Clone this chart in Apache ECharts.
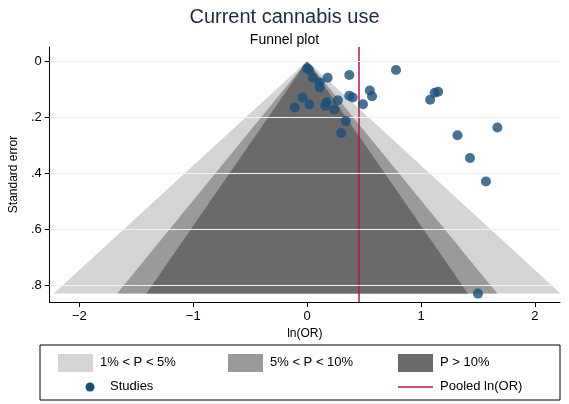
<!DOCTYPE html><html><head><meta charset="utf-8"><script src="https://cdn.jsdelivr.net/npm/echarts@6/dist/echarts.min.js"></script></head><body style="margin:0"><div id="c" style="width:569px;height:404px"></div><script>
const lnOR=[0,0.017,0.05,0.11,0.11,0.18,0.37,0.78,-0.04,-0.11,0.02,0.17,0.16,0.27,0.24,0.37,0.40,0.55,0.57,0.49,0.34,0.30,1.08,1.12,1.15,1.32,1.67,1.43,1.57,1.50];
const se=[0.027,0.032,0.06,0.077,0.094,0.06,0.05,0.032,0.13,0.166,0.155,0.147,0.16,0.14,0.173,0.124,0.13,0.105,0.126,0.154,0.214,0.257,0.138,0.113,0.11,0.265,0.237,0.346,0.43,0.83];
const xTicks=[-2,-1,0,1,2];
const yTicks=[0,0.2,0.4,0.6,0.8];
const pooled=0.45, seMax=0.83;
const zVals=[2.68,2.01,1.70];
const bandColors=['#d4d4d4','#9a9a9a','#6a6a6a'];
const bands=zVals.map(z=>[[0,0],[-z*seMax,seMax],[z*seMax,seMax]]);
const ch=echarts.init(document.getElementById('c'));
const ff='Liberation Sans, Arial, sans-serif';
ch.setOption({backgroundColor:'#fff',animation:false,
title:{text:'Current cannabis use',subtext:'Funnel plot',left:'center',top:2,itemGap:6,
 textStyle:{fontFamily:ff,fontSize:20,fontWeight:'normal',color:'#1a2a4a'},subtextStyle:{fontFamily:ff,fontSize:14,color:'#000'}},
grid:{left:45,right:9,top:47,bottom:102},
xAxis:{type:'value',min:-2.26,max:2.22,name:'ln(OR)',nameLocation:'middle',nameGap:22,nameTextStyle:{fontFamily:ff,fontSize:12,color:'#000'},
 axisLabel:{fontFamily:ff,fontSize:13,color:'#000',customValues:xTicks,formatter:v=>v<0?'\u2212'+(-v):String(v)},
 axisLine:{onZero:false,lineStyle:{color:'#000'}},axisTick:{show:true,length:5,customValues:xTicks},splitLine:{show:false}},
yAxis:{type:'value',inverse:true,min:-0.05,max:0.86,name:'Standard error',nameLocation:'middle',nameGap:28,nameTextStyle:{fontFamily:ff,fontSize:12,color:'#000'},
 axisLabel:{fontFamily:ff,fontSize:13,color:'#000',customValues:yTicks,formatter:v=>v===0?'0':String(v.toFixed(1)).replace(/^0/,'')},
 axisTick:{customValues:yTicks,length:5},
 axisLine:{show:true,onZero:false,lineStyle:{color:'#000'}},splitLine:{show:false}},
series:[
 ...bands.map((b,i)=>({type:'custom',data:[0],z:i+1,renderItem:(p,api)=>({type:'polygon',shape:{points:b.map(pt=>api.coord(pt))},style:{fill:bandColors[i]}})})),
 {type:'line',data:[[0,0]],symbol:'none',z:5,markLine:{silent:true,symbol:'none',label:{show:false},lineStyle:{color:'#c0143c',width:1.5,type:'solid'},data:[{xAxis:pooled}]}},
 {type:'line',data:[[0,0]],symbol:'none',z:4,markLine:{silent:true,symbol:'none',label:{show:false},lineStyle:{color:'#eef2f4',width:1,type:'solid'},data:yTicks.map(v=>({yAxis:v}))}},
 {type:'scatter',z:10,symbolSize:10,itemStyle:{color:'#1a4f7a'},data:lnOR.map((x,i)=>[x,se[i]])}
],
graphic:[
 {type:'rect',shape:{x:40,y:345,width:520,height:55},style:{fill:'#fff',stroke:'#000',lineWidth:1}},
 {type:'rect',shape:{x:58,y:354,width:35,height:18},style:{fill:bandColors[0]}},
 {type:'text',x:100,y:356,style:{text:'1% < P < 5%',font:'13px '+ff,fill:'#000'}},
 {type:'rect',shape:{x:228,y:354,width:35,height:18},style:{fill:bandColors[1]}},
 {type:'text',x:270,y:356,style:{text:'5% < P < 10%',font:'13px '+ff,fill:'#000'}},
 {type:'rect',shape:{x:398,y:354,width:35,height:18},style:{fill:bandColors[2]}},
 {type:'text',x:440,y:356,style:{text:'P > 10%',font:'13px '+ff,fill:'#000'}},
 {type:'circle',shape:{cx:90,cy:387,r:4.5},style:{fill:'#1a4f7a'}},
 {type:'text',x:110,y:380,style:{text:'Studies',font:'13px '+ff,fill:'#000'}},
 {type:'line',shape:{x1:398,y1:387,x2:433,y2:387},style:{stroke:'#c0143c',lineWidth:1.5}},
 {type:'text',x:440,y:380,style:{text:'Pooled ln(OR)',font:'13px '+ff,fill:'#000'}}
]});
</script></body></html>
